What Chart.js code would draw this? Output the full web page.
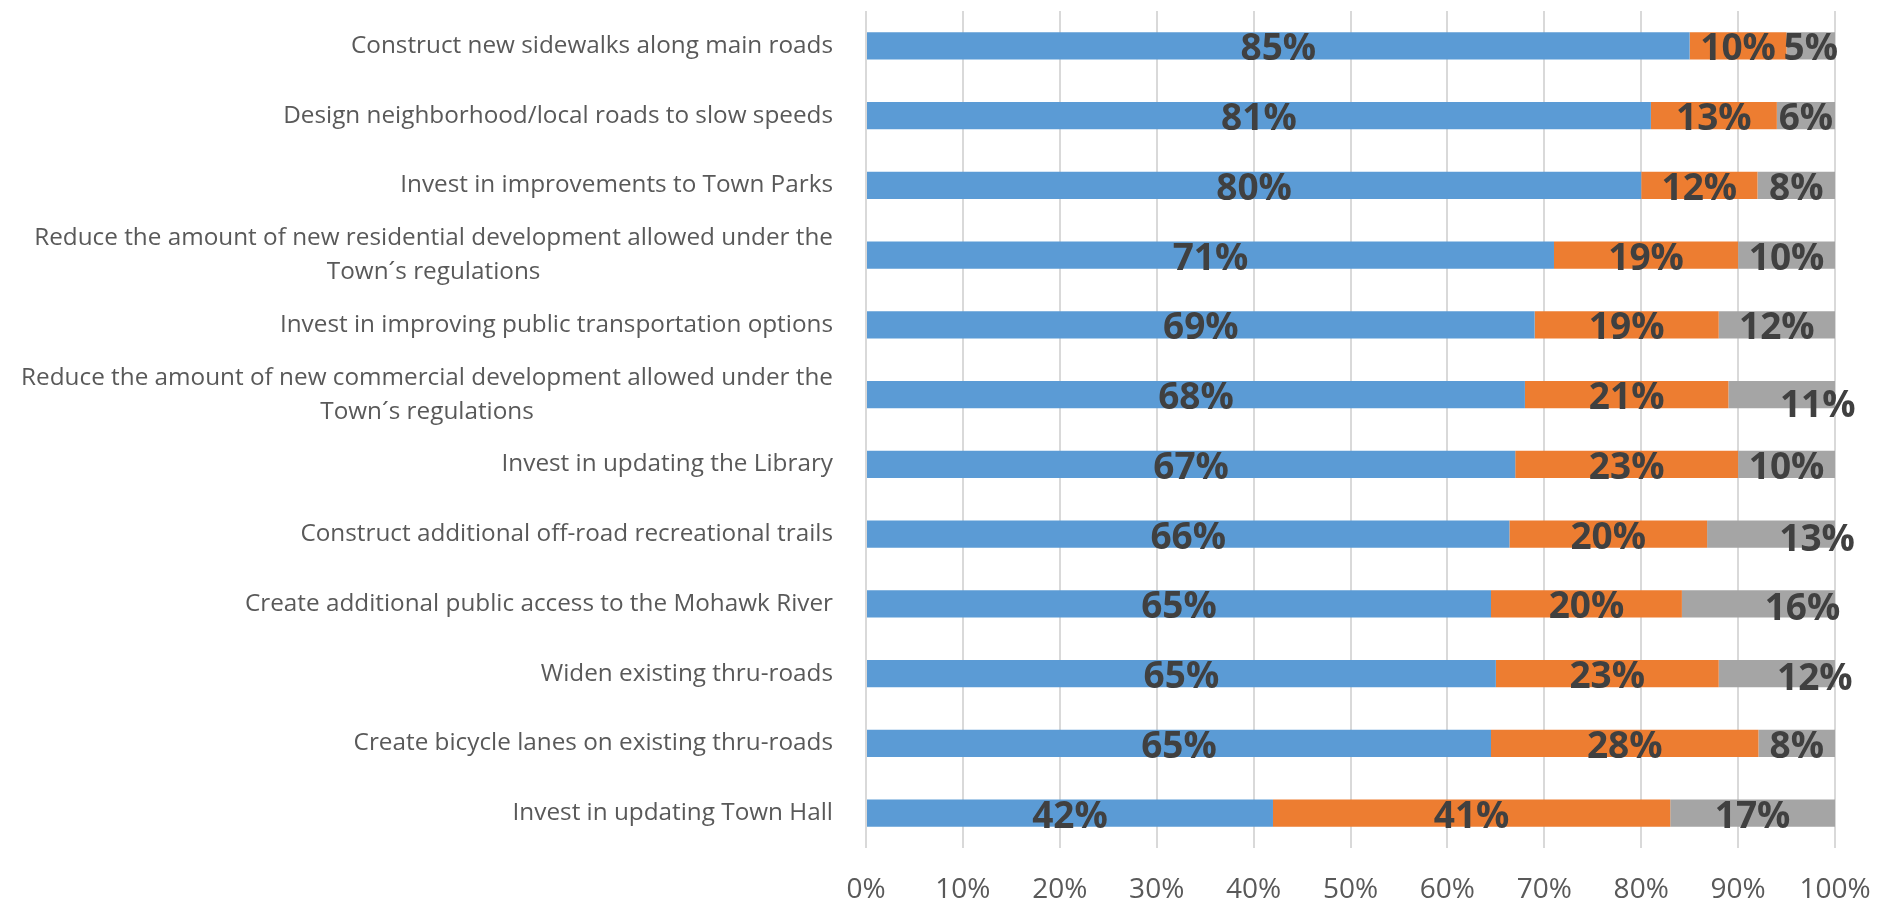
<!DOCTYPE html>
<html>
<head>
<meta charset="utf-8">
<script src="https://cdn.jsdelivr.net/npm/chart.js@4.4.1/dist/chart.umd.min.js"></script>
<style>
  html, body { margin: 0; padding: 0; background: #fff; overflow: hidden; }
  #wrap { width: 1882px; height: 901px; }
  canvas { display: block; }
</style>
</head>
<body>
<div id="wrap"><canvas id="myChart" width="1882" height="901"></canvas></div>
<script>
const categories = [
  ['Construct new sidewalks along main roads'],
  ['Design neighborhood/local roads to slow speeds'],
  ['Invest in improvements to Town Parks'],
  ['Reduce the amount of new residential development allowed under the', 'Town\u00b4s regulations'],
  ['Invest in improving public transportation options'],
  ['Reduce the amount of new commercial development allowed under the', 'Town\u00b4s regulations'],
  ['Invest in updating the Library'],
  ['Construct additional off-road recreational trails'],
  ['Create additional public access to the Mohawk River'],
  ['Widen existing thru-roads'],
  ['Create bicycle lanes on existing thru-roads'],
  ['Invest in updating Town Hall']
];

const blueValues   = [85, 81, 80, 71, 69, 68, 67, 66.4, 64.5, 65, 64.5, 42];
const orangeValues = [10, 13, 12, 19, 19, 21, 23, 20.4, 19.7, 23, 27.6, 41];
const grayValues   = [5, 6, 8, 10, 12, 11, 10, 13.2, 15.8, 12, 7.9, 17];

const tickValues = [0, 10, 20, 30, 40, 50, 60, 70, 80, 90, 100];

const FONT = "'Open Sans', 'Noto Sans', sans-serif";

// a few grey labels were dragged off-centre in the original
const grayNudge = { 5: [36, 8], 7: [46, 2], 8: [44, 2], 9: [38, 2] };

// labels on the bars, centred on each segment
const barLabels = {
  id: 'barLabels',
  afterDatasetsDraw(chart) {
    const c = chart.ctx;
    c.save();
    c.font = 'bold 37px ' + FONT;
    c.fillStyle = '#404040';
    c.textAlign = 'center';
    c.textBaseline = 'middle';
    chart.data.datasets.forEach((ds, di) => {
      chart.getDatasetMeta(di).data.forEach((bar, i) => {
        const p = bar.getProps(['x', 'y', 'base'], true);
        let x = (p.x + p.base) / 2;
        let y = p.y + 4;
        if (di === 2 && grayNudge[i]) {
          x += grayNudge[i][0];
          y += grayNudge[i][1];
        }
        c.fillText(Math.round(ds.data[i]) + '%', x, y);
      });
    });
    c.restore();
  }
};

// category labels: right aligned block, wrapped lines centred under the first
const catLabels = {
  id: 'catLabels',
  afterDraw(chart) {
    const c = chart.ctx;
    const y = chart.scales.y;
    const right = chart.chartArea.left - 33;
    const lh = 34;
    c.save();
    c.font = '24.3px ' + FONT;
    c.fillStyle = '#595959';
    c.textAlign = 'center';
    c.textBaseline = 'middle';
    categories.forEach((lines, i) => {
      const cy = y.getPixelForTick(i);
      const w = Math.max(...lines.map(l => c.measureText(l).width));
      const cx = right - w / 2;
      lines.forEach((l, k) => {
        c.fillText(l, cx, cy + (k - (lines.length - 1) / 2) * lh);
      });
    });
    c.restore();
  }
};

const data = {
  labels: categories,
  datasets: [
    { data: blueValues, backgroundColor: '#5B9BD5' },
    { data: orangeValues, backgroundColor: '#ED7D31' },
    { data: grayValues, backgroundColor: '#A5A5A5' }
  ]
};

const config = {
  type: 'bar',
  data: data,
  options: {
    indexAxis: 'y',
    responsive: false,
    animation: false,
    devicePixelRatio: 1,
    layout: { padding: { top: 11, right: 47, left: 0, bottom: -31 } },
    datasets: {
      bar: { barPercentage: 0.39, categoryPercentage: 1 }
    },
    plugins: {
      legend: false,
      tooltip: false
    },
    scales: {
      x: {
        stacked: true,
        min: 0,
        max: 100,
        afterBuildTicks(scale) {
          scale.ticks = tickValues.map(v => ({ value: v }));
        },
        afterFit(scale) {
          scale.paddingLeft = 0;
          scale.paddingRight = 0;
        },
        grid: { color: '#D9D9D9', lineWidth: 2, drawTicks: false },
        border: { display: false },
        ticks: {
          padding: 28,
          color: '#595959',
          font: { family: FONT, size: 28, lineHeight: 1 },
          callback: v => v + '%'
        }
      },
      y: {
        stacked: true,
        grid: { display: false },
        border: { display: false },
        ticks: { display: false },
        afterFit(scale) {
          scale.width = 866;
        }
      }
    }
  },
  plugins: [barLabels, catLabels]
};

const ctx = document.getElementById('myChart');
new Chart(ctx, config);
</script>
</body>
</html>
